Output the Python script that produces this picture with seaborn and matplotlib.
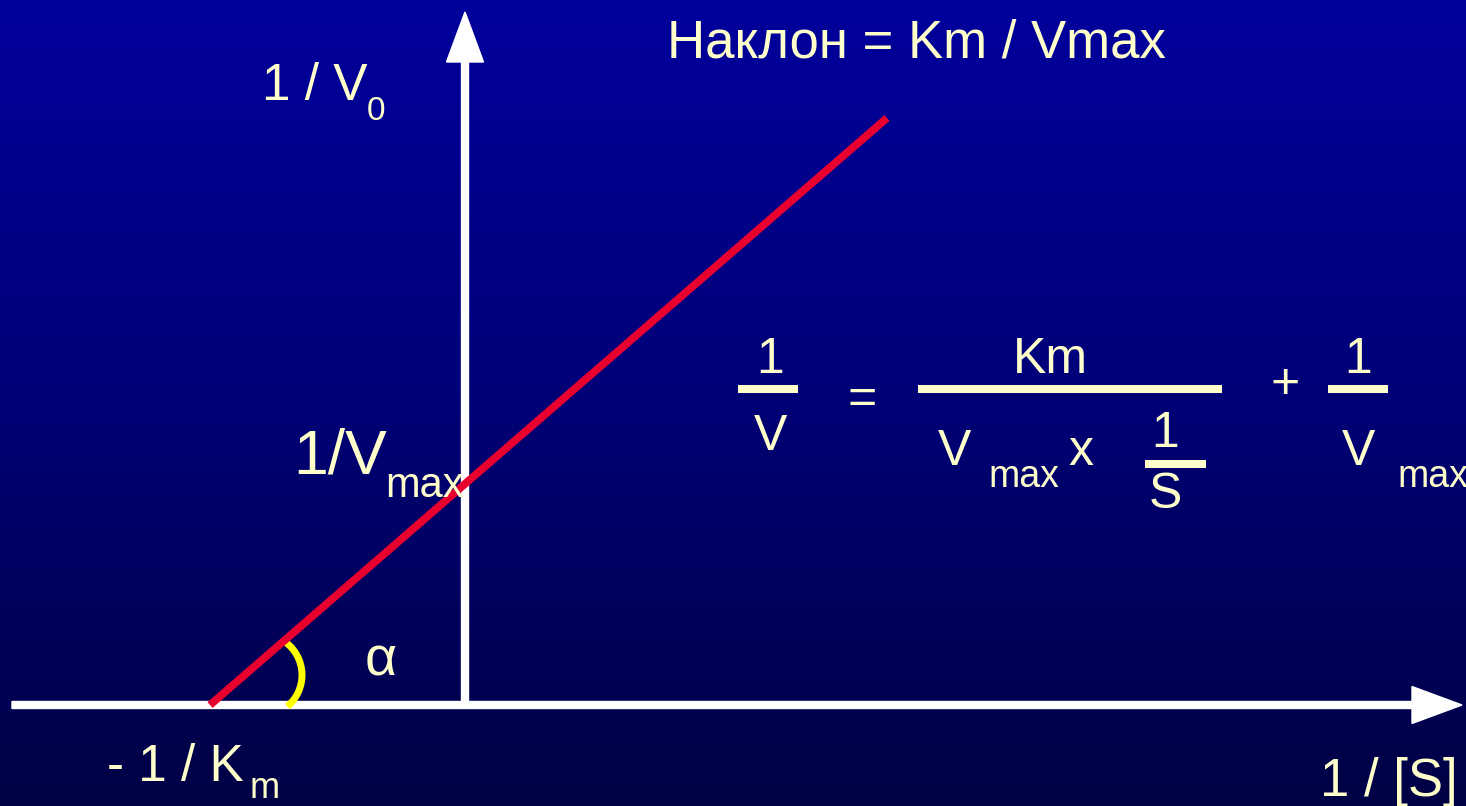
# Lineweaver-Burk plot (double reciprocal), redrawn with seaborn + matplotlib
import numpy as np
import seaborn as sns
import matplotlib.pyplot as plt
import pandas as pd
from matplotlib.colors import LinearSegmentedColormap
from matplotlib.patches import Arc

# the straight line: x-intercept (-1/Km) and top end
s_inv = [-2.55, 4.22]      # 1/[S]
v_inv = [0.0, 5.87]        # 1/V0

# label texts
title_text = "Наклон = Km / Vmax"
y_label = "1 / V"
y_label_sub = "0"
x_label = "1 / [S]"
x_icpt_label = "- 1 / K"
x_icpt_sub = "m"
y_icpt_label = "1/V"
y_icpt_sub = "max"
angle_label = "α"

sns.set_style("white")
plt.rcParams['font.family'] = ['Liberation Sans', 'DejaVu Sans']

cream = '#FFFFCC'
W, H = 1466, 806
X0, Y0 = 465, 705  # pixel position of the origin, 100 px per unit


def at(xp, yp):
    # pixel position in the picture -> data coords
    return (xp - X0) / 100, (Y0 - yp) / 100


fig = plt.figure(figsize=(W / 100, H / 100), dpi=100)
ax = fig.add_axes([0, 0, 1, 1])
xl = at(0, 0)[0], at(W, 0)[0]
yl = at(0, H)[1], at(0, 0)[1]
ax.set_xlim(*xl)
ax.set_ylim(*yl)
ax.axis('off')

# background gradient, blue at top to navy at bottom
bg = LinearSegmentedColormap.from_list('bg', ['#000044', '#000076', '#00009C'])
grad = np.linspace(0, 1, 256).reshape(-1, 1)
ax.imshow(grad, extent=[xl[0], xl[1], yl[0], yl[1]], origin='lower',
          aspect='auto', cmap=bg, zorder=0)

# axes as white arrows
ax.arrow(at(12, 0)[0], 0, at(1462, 0)[0] - at(12, 0)[0], 0, width=0.07,
         head_width=0.37, head_length=0.5, length_includes_head=True,
         color='white', zorder=2)
ax.arrow(0, 0, 0, at(0, 12)[1], width=0.07, head_width=0.37, head_length=0.5,
         length_includes_head=True, color='white', zorder=2)

# the red line
line_df = pd.DataFrame({'s_inv': s_inv, 'v_inv': v_inv})
sns.lineplot(data=line_df, x='s_inv', y='v_inv', color='#E8002E',
             linewidth=5.6, ax=ax, zorder=4)
ax.lines[-1].set_solid_capstyle('butt')
ax.set_xlabel('')
ax.set_ylabel('')

# yellow angle mark
ax.add_patch(Arc(at(261, 675), 0.82, 0.82, theta1=-50, theta2=54,
                 color='#FFFF00', lw=5, zorder=3))


def txt(xp, yp, s, size, ha='left', va='baseline', color=cream):
    ax.text(*at(xp, yp), s, fontsize=size, ha=ha, va=va, color=color, zorder=5)


def bar(x0, x1, yp):
    xa, ya = at(x0, yp)
    xb, _ = at(x1, yp)
    ax.plot([xa, xb], [ya, ya], color=cream, lw=5.8, solid_capstyle='butt', zorder=5)


txt(667, 57, title_text, 38)
txt(262, 100, y_label, 37)
txt(367, 120, y_label_sub, 24)
txt(293, 473, y_icpt_label, 45)
txt(385, 497, y_icpt_sub, 30)
txt(365, 676, angle_label, 40)
txt(107, 781, x_icpt_label, 37)
txt(250, 798, x_icpt_sub, 26)
txt(1320, 796, x_label, 38)

# the equation 1/V = Km / (Vmax x 1/S) + 1/Vmax
txt(770, 373, "1", 36, ha='center')
bar(738, 798, 389)
txt(770, 450, "V", 36, ha='center')
txt(862, 400, "=", 36, ha='center', va='center')
txt(1050, 373, "Km", 36, ha='center')
bar(918, 1222, 389)
txt(938, 465, "V", 36)
txt(988, 487, "max", 27)
txt(1068, 465, "x", 36)
txt(1165, 447, "1", 36, ha='center')
bar(1145, 1206, 464)
txt(1165, 508, "S", 36, ha='center')
txt(1285, 385, "+", 36, ha='center', va='center')
txt(1358, 373, "1", 36, ha='center')
bar(1328, 1388, 389)
txt(1358, 465, "V", 36, ha='center')
txt(1397, 487, "max", 27)

plt.savefig('out.png', dpi=100)
